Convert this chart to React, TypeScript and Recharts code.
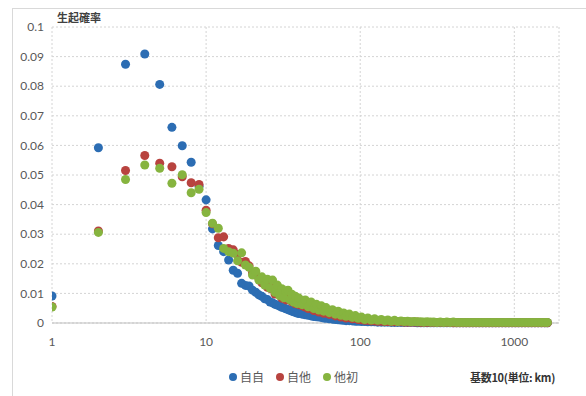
import React from 'react';
import { ScatterChart, Scatter, XAxis, YAxis, ZAxis, CartesianGrid } from 'recharts';

// distance in km (1..40 every km, then thinned out on the log axis)
const distances = [
  1, 2, 3, 4, 5, 6, 7, 8, 9, 10, 11, 12, 13, 14, 15, 16, 17, 18, 19, 20,
  21, 22, 23, 24, 25, 26, 27, 28, 29, 30, 31, 32, 33, 34, 35, 36, 37, 38, 39, 40,
  42, 44, 46, 48, 50, 52, 54, 56, 58, 60,
  63, 66, 69, 72, 75, 78, 81, 85, 89, 93, 97,
  102, 107, 112, 118, 124, 130, 137, 144, 151, 159,
  167, 175, 184, 193, 203, 213, 224, 235, 247, 259,
  272, 286, 300, 315, 331, 348, 365, 383, 402, 422,
  443, 465, 488, 512, 538, 565, 593, 623, 654, 687,
  721, 757, 795, 835, 877, 921, 967, 1015, 1066, 1119,
  1175, 1234, 1296, 1361, 1429, 1500, 1575, 1640
];

const jijiValues = [
  0.0091, 0.0592, 0.0874, 0.0909, 0.0806, 0.0661, 0.0599, 0.0543, 0.0462, 0.0416,
  0.0318, 0.0262, 0.0241, 0.0213, 0.0178, 0.0168, 0.0134, 0.0127, 0.0125, 0.0111,
  0.0104, 0.0095, 0.0090, 0.0082, 0.0079, 0.0071, 0.0068, 0.0063, 0.0061, 0.0057,
  0.0053, 0.0051, 0.0048, 0.0045, 0.0043, 0.0040, 0.0038, 0.0036, 0.0034, 0.0032,
  0.0030, 0.0028, 0.0026, 0.0024, 0.0022, 0.0021, 0.0020, 0.0019, 0.0017, 0.0016,
  0.0014, 0.0013, 0.0012, 0.0011, 0.0010, 0.0009, 0.0008, 0.0008, 0.0007, 0.0006, 0.0006,
  0.0005, 0.0005, 0.0004, 0.0004, 0.0004, 0.0003, 0.0003, 0.0003, 0.0003, 0.0002,
  0.0002, 0.0002, 0.0002, 0.0002, 0.0002, 0.0002, 0.0002, 0.0001, 0.0001, 0.0001,
  0.0001, 0.0001, 0.0001, 0.0001, 0.0001, 0.0001, 0.0001, 0.0001, 0.0001, 0.0001,
  0.0001, 0.0001, 0.0001, 0.0001, 0.0001, 0.0001, 0.0001, 0.0001, 0.0001, 0.0001,
  0.0001, 0.0001, 0.0001, 0.0001, 0.0001, 0.0001, 0.0001, 0.0001, 0.0001, 0.0001,
  0.0001, 0.0001, 0.0001, 0.0001, 0.0001, 0.0001, 0.0001, 0.0001
];

const jitaValues = [
  0.0056, 0.0311, 0.0515, 0.0566, 0.0540, 0.0528, 0.0494, 0.0474, 0.0468, 0.0381,
  0.0335, 0.0288, 0.0291, 0.0252, 0.0247, 0.0231, 0.0205, 0.0208, 0.0193, 0.0170,
  0.0164, 0.0151, 0.0136, 0.0134, 0.0121, 0.0117, 0.0119, 0.0098, 0.0102, 0.0099,
  0.0084, 0.0090, 0.0078, 0.0092, 0.0083, 0.0072, 0.0076, 0.0065, 0.0069, 0.0062,
  0.0058, 0.0054, 0.0049, 0.0052, 0.0042, 0.0045, 0.0037, 0.0040, 0.0033, 0.0035,
  0.0029, 0.0031, 0.0024, 0.0026, 0.0020, 0.0022, 0.0017, 0.0018, 0.0014, 0.0015, 0.0012,
  0.0011, 0.0009, 0.0009, 0.0007, 0.0007, 0.0006, 0.0006, 0.0005, 0.0005, 0.0004,
  0.0004, 0.0004, 0.0004, 0.0003, 0.0003, 0.0003, 0.0003, 0.0003, 0.0002, 0.0002,
  0.0002, 0.0002, 0.0002, 0.0002, 0.0002, 0.0002, 0.0002, 0.0002, 0.0001, 0.0001,
  0.0001, 0.0001, 0.0001, 0.0001, 0.0001, 0.0001, 0.0001, 0.0001, 0.0001, 0.0001,
  0.0001, 0.0001, 0.0001, 0.0001, 0.0001, 0.0001, 0.0001, 0.0001, 0.0001, 0.0001,
  0.0001, 0.0001, 0.0001, 0.0001, 0.0001, 0.0001, 0.0001, 0.0001
];

const tashoValues = [
  0.0054, 0.0306, 0.0485, 0.0534, 0.0523, 0.0472, 0.0501, 0.0440, 0.0452, 0.0373,
  0.0337, 0.0320, 0.0252, 0.0241, 0.0236, 0.0210, 0.0237, 0.0196, 0.0188, 0.0162,
  0.0175, 0.0145, 0.0156, 0.0128, 0.0148, 0.0118, 0.0145, 0.0104, 0.0128, 0.0093,
  0.0116, 0.0085, 0.0108, 0.0111, 0.0078, 0.0097, 0.0071, 0.0090, 0.0066, 0.0084,
  0.0062, 0.0078, 0.0055, 0.0071, 0.0049, 0.0063, 0.0044, 0.0058, 0.0040, 0.0052,
  0.0035, 0.0045, 0.0030, 0.0040, 0.0026, 0.0034, 0.0023, 0.0030, 0.0019, 0.0025, 0.0016,
  0.0020, 0.0012, 0.0017, 0.0010, 0.0014, 0.0009, 0.0012, 0.0007, 0.0010, 0.0006,
  0.0009, 0.0005, 0.0007, 0.0005, 0.0006, 0.0004, 0.0005, 0.0004, 0.0004, 0.0003,
  0.0004, 0.0003, 0.0003, 0.0002, 0.0003, 0.0002, 0.0003, 0.0002, 0.0003, 0.0002,
  0.0002, 0.0002, 0.0002, 0.0002, 0.0002, 0.0002, 0.0002, 0.0002, 0.0002, 0.0002,
  0.0002, 0.0002, 0.0002, 0.0002, 0.0002, 0.0002, 0.0002, 0.0002, 0.0002, 0.0002,
  0.0002, 0.0002, 0.0002, 0.0002, 0.0002, 0.0002, 0.0002, 0.0002
];

const xTicks = [1, 10, 100, 1000];
const yTicks = [0, 0.01, 0.02, 0.03, 0.04, 0.05, 0.06, 0.07, 0.08, 0.09, 0.1];

const series = [
  { name: '自自', values: jijiValues, color: '#2c6db3' },
  { name: '自他', values: jitaValues, color: '#b8433f' },
  { name: '他初', values: tashoValues, color: '#86b43f' }
];

const toPoints = (values: number[]) => distances.map((d, i) => ({ d, p: values[i] }));

const tickStyle = { fill: '#595959', fontSize: 12, fontFamily: 'Lato, "Noto Sans", sans-serif' };
const cjk = '"Noto Sans CJK JP", "Noto Sans", sans-serif';

export default function App() {
  return (
    <div style={{ position: 'absolute', left: 0, top: 0, width: 586, height: 396, overflow: 'hidden', background: '#fff' }}>
      <div style={{ position: 'absolute', left: 12, top: 8, width: 700, height: 500, border: '1px solid #d9d9d9' }} />
      <div style={{ position: 'absolute', left: 57, top: 9, fontFamily: cjk, fontSize: 11, fontWeight: 700, color: '#404040', lineHeight: '16px' }}>
        生起確率
      </div>
      <ScatterChart width={586} height={396} margin={{ top: 27, right: 27, bottom: 43, left: 0 }}>
        <CartesianGrid stroke="#d4d4d4" strokeDasharray="2 2" />
        <XAxis
          type="number"
          dataKey="d"
          scale="log"
          domain={[1, 1950]}
          ticks={xTicks}
          allowDataOverflow
          height={30}
          tickLine={false}
          tickMargin={8}
          axisLine={{ stroke: '#bfbfbf' }}
          tick={tickStyle}
          tickFormatter={(v: number) => String(v)}
        />
        <YAxis
          type="number"
          dataKey="p"
          domain={[0, 0.1]}
          ticks={yTicks}
          width={52}
          tickLine={false}
          axisLine={false}
          tick={tickStyle}
          tickFormatter={(v: number) => String(Number(v.toFixed(2)))}
        />
        <ZAxis type="number" range={[52, 52]} />
        {series.map((s) => (
          <Scatter
            key={s.name}
            name={s.name}
            data={toPoints(s.values)}
            fill={s.color}
            isAnimationActive={false}
          />
        ))}
      </ScatterChart>
      <div style={{ position: 'absolute', left: 229, top: 369, display: 'flex', alignItems: 'center', fontFamily: cjk, fontSize: 12, color: '#595959', lineHeight: '16px' }}>
        {series.map((s) => (
          <div key={s.name} style={{ display: 'flex', alignItems: 'center', marginRight: 12 }}>
            <span style={{ display: 'inline-block', width: 8, height: 8, borderRadius: 4, background: s.color, marginRight: 3 }} />
            <span>{s.name}</span>
          </div>
        ))}
      </div>
      <div style={{ position: 'absolute', left: 470, top: 369, fontFamily: cjk, fontSize: 11, fontWeight: 700, color: '#333', lineHeight: '16px', letterSpacing: -0.3 }}>
        基数10(単位: km)
      </div>
    </div>
  );
}
